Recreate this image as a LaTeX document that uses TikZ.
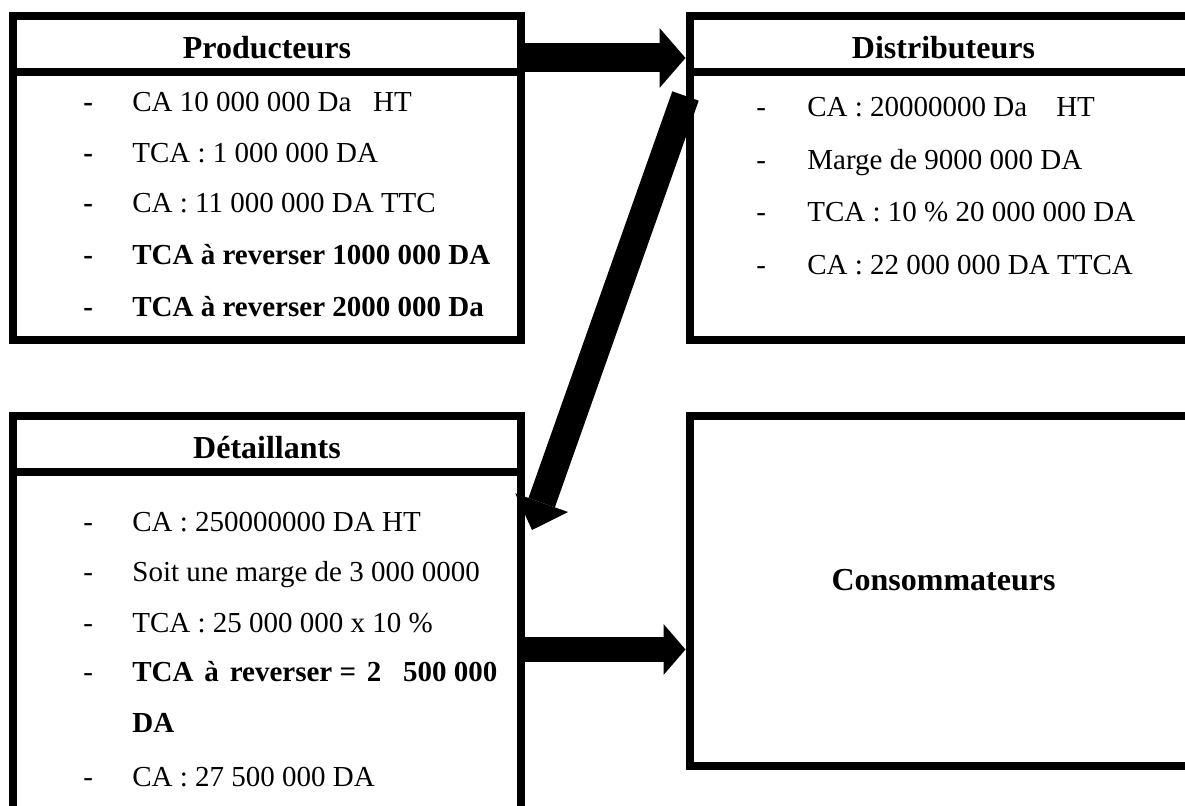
\documentclass[tikz,border=0pt]{standalone}
\usepackage{fontspec}
\setmainfont{Liberation Serif}
\usetikzlibrary{arrows.meta}

\tikzset{
    box/.style={draw, line width=4pt, inner sep=0pt, minimum width=254pt},
    bar/.style={line width=4pt},
    title/.style={font=\fontsize{16}{19}\selectfont\bfseries, inner sep=0pt},
    item/.style={font=\fontsize{14.5}{17}\selectfont, anchor=base west, inner sep=0pt},
    fatarrow/.style n args={3}{line width=#1, -{Triangle[length=#2, width=#3, line width=0pt]}}
}

\begin{document}
\begin{tikzpicture}[x=0.5pt, y=-0.5pt]
    \path[use as bounding box, clip] (0,0) rectangle (1185,806);
    \fill[white] (0,0) rectangle (1185,806);

    % Producteurs
    \node[box, minimum height=162pt] (prod) at (267,178) {};
    \draw[bar] ([yshift=-30pt]prod.north west) -- ([yshift=-30pt]prod.north east);
    \node[title, anchor=base] (prodtitle) at ([yshift=-23.5pt]prod.north) {Producteurs};
    \foreach \y/\txt [count=\i] in {112/{CA 10 000 000 Da\ \ \ HT}, 163/{TCA : 1 000 000 DA},
        213/{CA : 11 000 000 DA TTC}, 265/{\bfseries TCA à reverser 1000 000 DA},
        317/{\bfseries TCA à reverser 2000 000 Da}} {
        \node[item] (prodd\i) at (83,\y) {\bfseries -};
        \node[item] (prodi\i) at (132,\y) {\txt};
    }

    % Distributeurs
    \node[box, minimum height=162pt] (dist) at (943.5,178) {};
    \draw[bar] ([yshift=-30pt]dist.north west) -- ([yshift=-30pt]dist.north east);
    \node[title, anchor=base] (disttitle) at ([yshift=-23.5pt]dist.north) {Distributeurs};
    \foreach \y/\txt [count=\i] in {117/{CA : 20000000 Da\ \ \ \ HT}, 170/{Marge de 9000 000 DA},
        222/{TCA : 10 \% 20 000 000 DA}, 275/{CA : 22 000 000 DA TTCA}} {
        \node[item] (distd\i) at (756,\y) {-};
        \node[item] (disti\i) at (807,\y) {\txt};
    }

    % Detaillants
    \node[box, minimum height=212pt] (det) at (267,628) {};
    \draw[bar] ([yshift=-30pt]det.north west) -- ([yshift=-30pt]det.north east);
    \node[title, anchor=base] (dettitle) at ([yshift=-23.5pt]det.north) {Détaillants};
    \foreach \y/\txt [count=\i] in {532/{CA : 250000000 DA HT}, 582/{Soit une marge de 3 000 0000},
        633/{TCA : 25 000 000 x 10 \%},
        682/{\bfseries\makebox[182.5pt][l]{TCA\hfill à\hfill reverser =\hfill 2\hfill\hfill 500 000}},
        787/{CA : 27 500 000 DA}} {
        \node[item] (detd\i) at (83,\y) {-};
        \node[item] (deti\i) at (132,\y) {\txt};
    }
    \node[item] (detda) at (132,733) {\bfseries DA};

    % Consommateurs
    \node[box, minimum height=175pt] (cons) at (943.5,591) {};
    \node[title, anchor=base] (constitle) at (cons.center) {Consommateurs};

    % fleches
    \draw[fatarrow={14.5pt}{13pt}{30pt}] ([yshift=-23pt]prod.north east) -- ([yshift=-23pt]dist.north west);
    \draw[fatarrow={14pt}{14.5pt}{28pt}] ([yshift=-42pt]dist.north west) -- ([shift={(3.5pt,-59pt)}]det.north east);
    \draw[fatarrow={12.5pt}{11pt}{25.5pt}] ([yshift=-118.75pt]det.north east) -- ([yshift=-118.75pt]cons.north west);
\end{tikzpicture}
\end{document}
